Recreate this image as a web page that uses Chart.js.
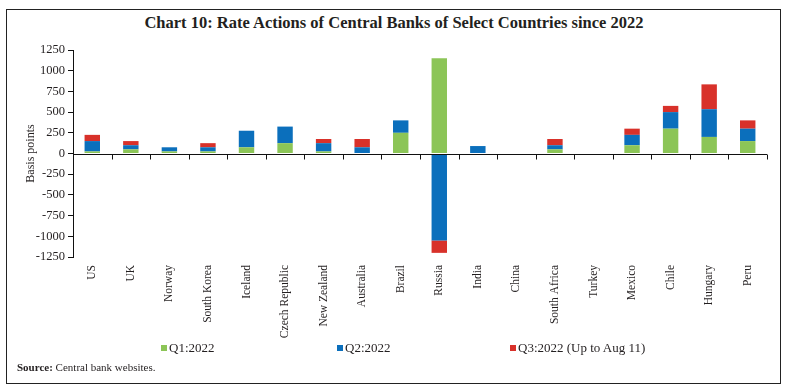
<!DOCTYPE html>
<html>
<head>
<meta charset="utf-8">
<script src="https://cdn.jsdelivr.net/npm/chart.js@4.4.1/dist/chart.umd.min.js"></script>
<style>
  html, body { margin: 0; padding: 0; background: #fff; }
  #wrap { position: relative; width: 788px; height: 390px; font-family: "Liberation Serif", serif; color: #231f20; }
  #frame { position: absolute; left: 6px; top: 9px; width: 773px; height: 373px; border: 1.5px solid #222; }
  #title { position: absolute; left: 0; width: 788px; top: 13px; text-align: center; font-weight: bold; font-size: 16.5px; }
  #chart { position: absolute; left: 0; top: 0; }
  .lg { position: absolute; top: 340px; font-size: 13px; white-space: nowrap; }
  .lg i { display: inline-block; width: 6px; height: 6px; margin-right: 2px; vertical-align: 1px; }
  #source { position: absolute; left: 17px; top: 361px; font-size: 11px; }
</style>
</head>
<body>
<div id="wrap">
  <div id="frame"></div>
  <div id="title">Chart 10: Rate Actions of Central Banks of Select Countries since 2022</div>
  <canvas id="chart" width="788" height="390"></canvas>
  <div id="legend"></div>
  <div id="source"><b>Source:</b> Central bank websites.</div>
</div>
<script>
// ===== 数据 =====
const countries = ['US', 'UK', 'Norway', 'South Korea', 'Iceland', 'Czech Republic', 'New Zealand',
  'Australia', 'Brazil', 'Russia', 'India', 'China', 'South Africa', 'Turkey', 'Mexico', 'Chile',
  'Hungary', 'Peru'];
const q1 = [25, 50, 25, 25, 75, 125, 25, 0, 250, 1150, 0, -10, 50, 0, 100, 300, 200, 150];
const q2 = [125, 50, 50, 50, 200, 200, 100, 75, 150, -1050, 90, 0, 50, 0, 125, 200, 335, 150];
const q3 = [75, 50, 0, 50, 0, 0, 50, 100, 0, -150, 0, 0, 75, 0, 75, 75, 300, 100];
const seriesNames = ['Q1:2022', 'Q2:2022', 'Q3:2022 (Up to Aug 11)'];
const yTicks = { min: -1250, max: 1250, step: 250 };

const colors = ['#8cc557', '#0b6fbc', '#d8312a'];
const legendLeft = [161, 337, 510];

// 图例（HTML，间距和原图一致）
const lg = document.getElementById('legend');
seriesNames.forEach((n, i) => {
  const d = document.createElement('div');
  d.className = 'lg';
  d.style.left = legendLeft[i] + 'px';
  d.innerHTML = `<i style="background:${colors[i]}"></i>${n}`;
  lg.appendChild(d);
});

// 零线 + 类别分隔刻度
const zeroAxis = {
  id: 'zeroAxis',
  afterDatasetsDraw(chart) {
    const { ctx, chartArea, scales: { x, y } } = chart;
    const y0 = Math.round(y.getPixelForValue(0)) + 0.5;
    ctx.save();
    ctx.strokeStyle = '#111';
    ctx.lineWidth = 1;
    ctx.beginPath();
    ctx.moveTo(chartArea.left, y0);
    ctx.lineTo(chartArea.right, y0);
    const n = countries.length;
    for (let i = 1; i <= n; i++) {
      const px = i < n ? (x.getPixelForValue(i - 1) + x.getPixelForValue(i)) / 2 : chartArea.right;
      const xx = Math.round(px) + 0.5;
      ctx.moveTo(xx, y0);
      ctx.lineTo(xx, y0 + 5);
    }
    ctx.stroke();
    ctx.restore();
  },
};

const font = { family: '"Liberation Serif", serif' };

new Chart(document.getElementById('chart'), {
  type: 'bar',
  data: {
    labels: countries,
    datasets: [q1, q2, q3].map((d, i) => ({
      label: seriesNames[i],
      data: d,
      backgroundColor: colors[i],
      barPercentage: 0.4,
      categoryPercentage: 1,
    })),
  },
  options: {
    responsive: false,
    animation: false,
    layout: { padding: { top: 50, right: 21, left: 0, bottom: 0 } },
    plugins: { legend: { display: false }, tooltip: { enabled: false } },
    scales: {
      x: {
        stacked: true,
        grid: { display: false, drawTicks: false },
        border: { display: false },
        ticks: {
          autoSkip: false, maxRotation: 90, minRotation: 90, padding: 8,
          color: '#231f20', font: { ...font, size: 11.5 },
        },
        afterFit: (s) => { s.height = 133; },
      },
      y: {
        stacked: true,
        min: yTicks.min,
        max: yTicks.max,
        grid: { drawOnChartArea: false, drawTicks: true, tickLength: 5, color: '#111' },
        border: { display: true, color: '#111', width: 1 },
        ticks: {
          stepSize: yTicks.step, padding: 3, color: '#231f20', font: { ...font, size: 12.5 },
          callback: (v) => String(v),
        },
        title: {
          display: true, text: 'Basis points', color: '#231f20',
          font: { ...font, size: 12 }, padding: { top: 24, bottom: 0 },
        },
        afterFit: (s) => { s.width = 73; },
      },
    },
  },
  plugins: [zeroAxis],
});
</script>
</body>
</html>
